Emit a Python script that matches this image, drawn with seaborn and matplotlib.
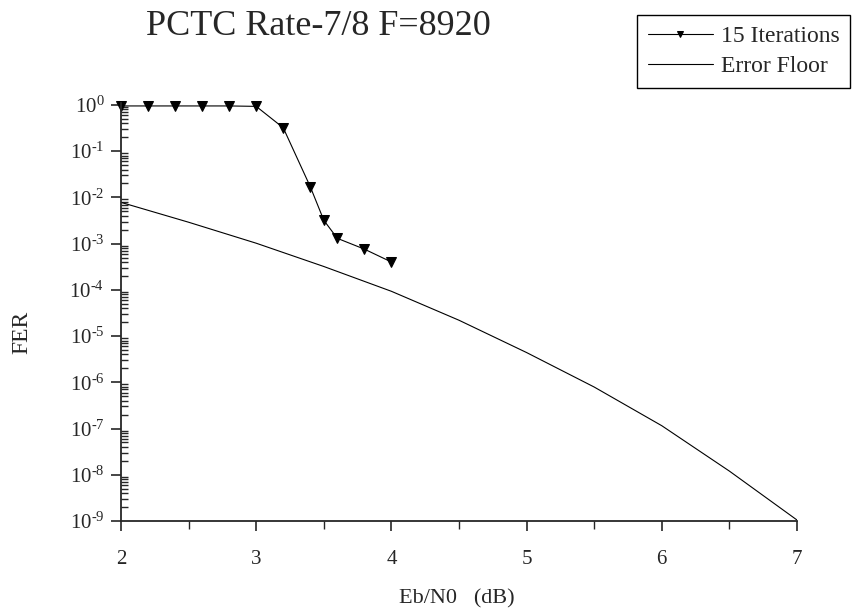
import numpy as np
import pandas as pd
import matplotlib
matplotlib.use("Agg")
import matplotlib.pyplot as plt
import matplotlib.ticker as mticker
import seaborn as sns

# 15 iterations simulation points
ebn0_sim = [2.0, 2.2, 2.4, 2.6, 2.8, 3.0, 3.2, 3.4, 3.5, 3.6, 3.8, 4.0]
fer_sim = [0.95, 0.95, 0.95, 0.95, 0.95, 0.93, 0.32, 0.017, 0.0032, 0.0013, 0.00076, 0.0004]

# error floor estimate
ebn0_floor = [2.0, 2.5, 3.0, 3.5, 4.0, 4.5, 5.0, 5.5, 6.0, 6.5, 7.0]
fer_floor = [7.8e-3, 2.9e-3, 1.02e-3, 3.2e-4, 9.3e-5, 2.2e-5, 4.4e-6, 7.9e-7, 1.15e-7, 1.2e-8, 1.05e-9]

labels = ["15 Iterations", "Error Floor"]

df = pd.concat([
    pd.DataFrame({"ebn0": ebn0_sim, "fer": fer_sim, "curve": labels[0]}),
    pd.DataFrame({"ebn0": ebn0_floor, "fer": fer_floor, "curve": labels[1]}),
])

sns.set_style("ticks")
plt.rcParams['font.family'] = ['Liberation Serif', 'DejaVu Serif']
plt.rcParams['mathtext.fontset'] = 'custom'
plt.rcParams['mathtext.rm'] = 'Liberation Serif'
plt.rcParams['mathtext.it'] = 'Liberation Serif:italic'

fig = plt.figure(figsize=(8.55, 6.11), dpi=100)
ax = fig.add_axes([121/855, 1-521/611, (797-121)/855, (521-103)/611])

sns.lineplot(data=df[df.curve == labels[0]], x="ebn0", y="fer", ax=ax,
             color="black", lw=0.8, marker="v", markersize=7,
             markeredgecolor="black", label=labels[0], clip_on=False)
sns.lineplot(data=df[df.curve == labels[1]], x="ebn0", y="fer", ax=ax,
             color="black", lw=0.8, label=labels[1])

ax.set_yscale("log")
ax.set_xlim(2, 7)
ax.set_ylim(1e-9, 1.1)
ax.set_xticks([2, 3, 4, 5, 6, 7])
ax.xaxis.set_minor_locator(mticker.MultipleLocator(0.5))
ax.yaxis.set_major_locator(mticker.LogLocator(base=10, numticks=30))
ax.yaxis.set_minor_locator(mticker.LogLocator(base=10, subs=np.arange(2, 10), numticks=100))
ax.yaxis.set_minor_formatter(mticker.NullFormatter())
ax.yaxis.set_major_formatter(mticker.FuncFormatter(
    lambda v, p: r"$10^{%d}$" % round(np.log10(v)) if round(np.log10(v)) == 0
    else r"$10^{\text{-}%d}$" % -round(np.log10(v))))

for s in ["top", "right"]:
    ax.spines[s].set_visible(False)
for s in ["left", "bottom"]:
    ax.spines[s].set_linewidth(1.3)

ax.tick_params(axis="both", which="major", direction="out", length=7, width=1.2, labelsize=15)
ax.tick_params(axis="x", which="minor", direction="out", length=6, width=1.0)
ax.tick_params(axis="y", which="minor", direction="in", length=5, width=1.0)
ax.tick_params(axis="x", pad=14)
ax.tick_params(axis="y", pad=5)

ax.set_xlabel("")
ax.set_ylabel("")
fig.text(457/855, 1-603/611, "Eb/N0   (dB)", fontsize=16, ha="center", va="baseline")
fig.text(22/855, 1-332/611, "FER", fontsize=17, ha="center", va="center", rotation=90)
fig.text(318/855, 1-35/611, "PCTC Rate-7/8 F=8920", fontsize=26,
         ha="center", va="baseline")

ax.get_legend().remove()
leg = fig.legend(loc="upper left", bbox_to_anchor=(637/855, 1-15/611),
                 fontsize=17, frameon=True, fancybox=False, edgecolor="black",
                 framealpha=1, handlelength=2.75, handletextpad=0.35,
                 borderaxespad=0, borderpad=0.45, labelspacing=0.35, markerscale=0.7)
leg.get_frame().set_linewidth(1.0)

fig.savefig("out.png", dpi=100)
